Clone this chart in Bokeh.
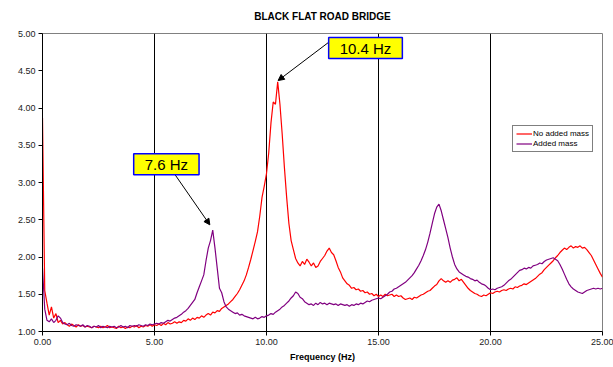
from bokeh.plotting import figure
from bokeh.models import (Range1d, FixedTicker, PrintfTickFormatter, Legend, LegendItem,
                          Label, Arrow, NormalHead)
from bokeh.embed import file_html
from bokeh.resources import INLINE

# ---------------- data ----------------
freq = [round(i * 0.1, 1) for i in range(251)]  # Hz, 0.1 Hz sampling of read values

no_added_mass = [
    3.87, 1.55, 1.38, 1.22, 1.33, 1.18, 1.24, 1.12, 1.15, 1.10, 1.12,
    1.09, 1.07, 1.10, 1.08, 1.06, 1.09, 1.07, 1.08, 1.06, 1.07,
    1.06, 1.05, 1.07, 1.06, 1.05, 1.07, 1.05, 1.06, 1.08, 1.05,
    1.06, 1.05, 1.04, 1.07, 1.05, 1.06, 1.04, 1.06, 1.05, 1.07,
    1.06, 1.08, 1.05, 1.07, 1.06, 1.08, 1.07, 1.09, 1.07, 1.09,
    1.08, 1.10, 1.08, 1.11, 1.09, 1.12, 1.10, 1.11, 1.13, 1.11,
    1.13, 1.12, 1.15, 1.14, 1.17, 1.15, 1.18, 1.16, 1.19, 1.18,
    1.21, 1.19, 1.22, 1.24, 1.22, 1.26, 1.25, 1.28, 1.27, 1.31,
    1.33, 1.35, 1.37, 1.40, 1.43, 1.47, 1.51, 1.56, 1.62, 1.68,
    1.76, 1.86, 1.97, 2.09, 2.21, 2.34, 2.55, 2.80, 2.95, 3.12,
    3.40, 3.80, 4.08, 4.05, 4.35, 4.05, 3.65, 3.20, 2.80, 2.45,
    2.22, 2.10, 1.98, 1.92, 1.88, 1.94, 1.90, 1.97, 1.93, 1.88,
    1.92, 1.86, 1.88, 1.94, 1.98, 2.02, 2.08, 2.12, 2.06, 2.03,
    1.95, 1.86, 1.80, 1.72, 1.68, 1.64, 1.62, 1.58, 1.59, 1.56,
    1.57, 1.54, 1.55, 1.52, 1.53, 1.50, 1.51, 1.48, 1.50, 1.47,
    1.49, 1.47, 1.50, 1.48, 1.49, 1.50, 1.47, 1.49, 1.47, 1.48,
    1.45, 1.43, 1.44, 1.45, 1.43, 1.46, 1.45, 1.47, 1.49, 1.50,
    1.52, 1.54, 1.55, 1.58, 1.61, 1.63, 1.68, 1.71, 1.68, 1.66,
    1.68, 1.66, 1.69, 1.70, 1.72, 1.68, 1.70, 1.66, 1.62, 1.58,
    1.55, 1.53, 1.51, 1.50, 1.48, 1.47, 1.49, 1.48, 1.50, 1.52,
    1.51, 1.53, 1.54, 1.53, 1.55, 1.56, 1.55, 1.57, 1.58, 1.57,
    1.60, 1.59, 1.61, 1.62, 1.64, 1.63, 1.65, 1.67, 1.69, 1.71,
    1.74, 1.77, 1.79, 1.83, 1.86, 1.89, 1.92, 1.95, 1.99, 2.02,
    2.06, 2.09, 2.12, 2.10, 2.13, 2.15, 2.12, 2.14, 2.13, 2.15,
    2.12, 2.13, 2.10, 2.06, 2.02, 1.96, 1.90, 1.84, 1.78, 1.73,
]

added_mass = [
    1.85, 1.30, 1.15, 1.13, 1.17, 1.12, 1.15, 1.21, 1.18, 1.12, 1.10,
    1.09, 1.11, 1.08, 1.07, 1.09, 1.08, 1.07, 1.09, 1.06, 1.08,
    1.07, 1.05, 1.07, 1.06, 1.08, 1.05, 1.07, 1.06, 1.05, 1.07,
    1.06, 1.07, 1.05, 1.06, 1.08, 1.06, 1.07, 1.05, 1.08, 1.07,
    1.08, 1.07, 1.09, 1.08, 1.07, 1.09, 1.08, 1.10, 1.09, 1.10,
    1.11, 1.10, 1.12, 1.11, 1.13, 1.15, 1.14, 1.16, 1.18, 1.19,
    1.21, 1.23, 1.26, 1.28, 1.31, 1.35, 1.39, 1.43, 1.52, 1.60,
    1.68, 1.76, 1.95, 2.12, 2.22, 2.36, 2.12, 1.85, 1.58, 1.52,
    1.40, 1.33, 1.30, 1.28, 1.26, 1.24, 1.25, 1.22, 1.23, 1.21,
    1.20, 1.19, 1.18, 1.17, 1.19, 1.17, 1.18, 1.20, 1.19, 1.21,
    1.22, 1.24, 1.23, 1.26, 1.28, 1.30, 1.33, 1.35, 1.38, 1.41,
    1.45, 1.48, 1.53, 1.51, 1.46, 1.44, 1.40, 1.38, 1.36, 1.37,
    1.35, 1.38, 1.36, 1.39, 1.37, 1.38, 1.36, 1.38, 1.37, 1.36,
    1.37, 1.35, 1.37, 1.36, 1.35, 1.36, 1.34, 1.36, 1.35, 1.37,
    1.36, 1.38, 1.37, 1.39, 1.41, 1.40, 1.42, 1.43, 1.44, 1.45,
    1.44, 1.46, 1.48, 1.50, 1.53, 1.54, 1.57, 1.58, 1.60, 1.62,
    1.64, 1.66, 1.69, 1.72, 1.75, 1.79, 1.84, 1.89, 1.95, 2.02,
    2.10, 2.20, 2.32, 2.45, 2.58, 2.67, 2.71, 2.62, 2.50, 2.38,
    2.26, 2.12, 2.00, 1.90, 1.84, 1.80, 1.78, 1.76, 1.74, 1.73,
    1.71, 1.70, 1.68, 1.69, 1.66, 1.64, 1.63, 1.61, 1.58, 1.56,
    1.57, 1.56, 1.58, 1.59, 1.60, 1.62, 1.65, 1.68, 1.70, 1.73,
    1.76, 1.79, 1.82, 1.83, 1.85, 1.84, 1.86, 1.85, 1.88, 1.89,
    1.90, 1.92, 1.91, 1.94, 1.96, 1.97, 1.98, 1.99, 1.97, 1.95,
    1.90, 1.84, 1.77, 1.70, 1.64, 1.60, 1.57, 1.55, 1.53, 1.52,
    1.51, 1.53, 1.55, 1.56, 1.57, 1.58, 1.57, 1.58, 1.57, 1.58,
]

x_ticks = [0, 5, 10, 15, 20, 25]
y_ticks = [1.0, 1.5, 2.0, 2.5, 3.0, 3.5, 4.0, 4.5, 5.0]
grid_x = [5, 10, 15, 20]
series_names = ["No added mass", "Added mass"]
chart_title = "BLACK FLAT ROAD BRIDGE"

# callouts: (text, box centre x, box centre y, arrow start x, y, arrow end x, y)
callout_76 = ("7.6 Hz", 5.53, 3.244, 5.89, 3.117, 7.47, 2.432)
callout_104 = ("10.4 Hz", 14.42, 4.805, 12.78, 4.883, 10.52, 4.369)

FONT = "Liberation Sans"

p = figure(width=613, height=367, output_backend="svg", toolbar_location=None,
           x_range=Range1d(0, 25), y_range=Range1d(1, 5),
           min_border_left=42, min_border_right=11, min_border_top=33, min_border_bottom=36)

p.title.text = chart_title
p.title.align = "center"
p.title.vertical_align = "top"
p.title.text_font = FONT
p.title.text_font_size = "10px"
p.title.text_font_style = "bold"
p.title.text_color = "#000000"
p.title.standoff = 19

p.background_fill_color = "white"
p.border_fill_color = "white"
p.outline_line_color = "#808080"
p.outline_line_width = 1

# axes
for ax in (p.xaxis[0], p.yaxis[0]):
    ax.axis_line_color = "#000000"
    ax.major_tick_line_color = "#000000"
    ax.major_tick_out = 4
    ax.major_tick_in = 0
    ax.minor_tick_line_color = None
    ax.major_label_text_font = FONT
    ax.major_label_text_font_size = "9px"
    ax.major_label_text_color = "#222222"
    ax.major_label_standoff = 3

p.xaxis.ticker = FixedTicker(ticks=x_ticks)
p.yaxis.ticker = FixedTicker(ticks=y_ticks)
p.xaxis.formatter = PrintfTickFormatter(format="%.2f")
p.yaxis.formatter = PrintfTickFormatter(format="%.2f")
p.xaxis.axis_label = "Frequency (Hz)"
p.xaxis.axis_label_text_font = FONT
p.xaxis.axis_label_text_font_size = "9px"
p.xaxis.axis_label_text_font_style = "bold"
p.xaxis.axis_label_text_color = "#000000"
p.xaxis.axis_label_standoff = 4

p.xgrid.ticker = FixedTicker(ticks=grid_x)
p.xgrid.grid_line_color = "#000000"
p.xgrid.grid_line_width = 1
p.ygrid.grid_line_color = None

r_red = p.line(freq, no_added_mass, line_color="#ff0000", line_width=1.2)
r_pur = p.line(freq, added_mass, line_color="#800080", line_width=1.2)

legend = Legend(items=[LegendItem(label=series_names[0], renderers=[r_red]),
                       LegendItem(label=series_names[1], renderers=[r_pur])],
                location=(470, 179))
legend.border_line_color = "#000000"
legend.border_line_width = 1
legend.background_fill_color = "white"
legend.background_fill_alpha = 1
legend.label_text_font = FONT
legend.label_text_font_size = "8px"
legend.label_text_color = "#000000"
legend.glyph_width = 16
legend.glyph_height = 9
legend.label_height = 9
legend.label_standoff = 1
legend.spacing = 1
legend.padding = 3
legend.margin = 0
p.add_layout(legend)

for text, bx, by, sx, sy, ex, ey in (callout_76, callout_104):
    p.add_layout(Arrow(end=NormalHead(size=6, fill_color="#000000", line_color="#000000"),
                       x_start=sx, y_start=sy, x_end=ex, y_end=ey,
                       line_color="#000000", line_width=1))
    p.add_layout(Label(x=bx, y=by, text=text, text_align="center", text_baseline="middle",
                       text_font=FONT, text_font_size="15px", text_color="#000000",
                       background_fill_color="#ffff00", border_line_color="#0000ff",
                       border_line_width=1.5, padding=(11, 2)))

open("out.html", "w").write(file_html(p, INLINE))
